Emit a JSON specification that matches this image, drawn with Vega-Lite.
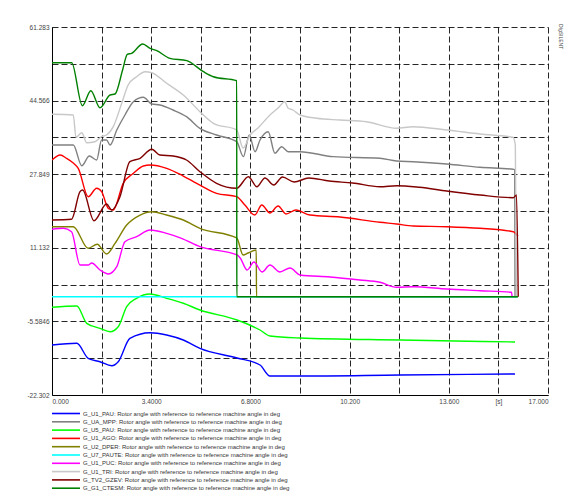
{
  "$schema": "https://vega.github.io/schema/vega-lite/v6.json",
  "autosize": "none",
  "width": 496,
  "height": 368,
  "padding": {"left": 52, "top": 27, "right": 20, "bottom": 101},
  "background": "white",
  "title": {"text": "DIgSILENT", "orient": "right", "anchor": "start", "fontSize": 5, "font": "Liberation Sans", "color": "#444", "offset": 10, "fontWeight": "normal"},
  "data": {"values": [
    {"s":"G_U1_PAU","x":0,"y":-10.94},{"s":"G_U1_PAU","x":0.85,"y":-10.56},{"s":"G_U1_PAU","x":1.24,"y":-13.97},{"s":"G_U1_PAU","x":1.645,"y":-14.74},{"s":"G_U1_PAU","x":2.05,"y":-15.65},{"s":"G_U1_PAU","x":2.27,"y":-14.74},{"s":"G_U1_PAU","x":2.67,"y":-9.42},{"s":"G_U1_PAU","x":3.36,"y":-8.15},{"s":"G_U1_PAU","x":3.93,"y":-8.67},{"s":"G_U1_PAU","x":4.5,"y":-9.81},{"s":"G_U1_PAU","x":5.07,"y":-11.7},{"s":"G_U1_PAU","x":6.34,"y":-13.9},{"s":"G_U1_PAU","x":7.13,"y":-15.49},{"s":"G_U1_PAU","x":7.47,"y":-18.0},{"s":"G_U1_PAU","x":8.5,"y":-18.0},{"s":"G_U1_PAU","x":11.93,"y":-17.76},{"s":"G_U1_PAU","x":15.87,"y":-17.53},

    {"s":"G_UA_MPP","x":0,"y":34.48},{"s":"G_UA_MPP","x":0.73,"y":34.48},{"s":"G_UA_MPP","x":1.02,"y":29.78},{"s":"G_UA_MPP","x":1.28,"y":31.98},{"s":"G_UA_MPP","x":1.53,"y":31.07},{"s":"G_UA_MPP","x":1.7,"y":35.62},{"s":"G_UA_MPP","x":1.87,"y":35.62},{"s":"G_UA_MPP","x":1.99,"y":34.48},{"s":"G_UA_MPP","x":2.22,"y":37.89},{"s":"G_UA_MPP","x":2.5,"y":41.3},{"s":"G_UA_MPP","x":2.79,"y":44.32},{"s":"G_UA_MPP","x":3.13,"y":45.31},{"s":"G_UA_MPP","x":3.42,"y":43.79},{"s":"G_UA_MPP","x":3.7,"y":43.57},{"s":"G_UA_MPP","x":4.15,"y":42.43},{"s":"G_UA_MPP","x":4.61,"y":40.91},{"s":"G_UA_MPP","x":5.07,"y":38.27},{"s":"G_UA_MPP","x":5.64,"y":36.75},{"s":"G_UA_MPP","x":6.33,"y":35.23},{"s":"G_UA_MPP","x":6.56,"y":31.83},{"s":"G_UA_MPP","x":6.76,"y":36.75},{"s":"G_UA_MPP","x":6.96,"y":32.96},{"s":"G_UA_MPP","x":7.13,"y":35.62},{"s":"G_UA_MPP","x":7.41,"y":37.5},{"s":"G_UA_MPP","x":7.64,"y":32.6},{"s":"G_UA_MPP","x":7.87,"y":34.09},{"s":"G_UA_MPP","x":8.1,"y":32.96},{"s":"G_UA_MPP","x":8.5,"y":32.96},{"s":"G_UA_MPP","x":9.64,"y":31.83},{"s":"G_UA_MPP","x":11.24,"y":31.46},{"s":"G_UA_MPP","x":11.81,"y":30.85},{"s":"G_UA_MPP","x":12.38,"y":30.69},{"s":"G_UA_MPP","x":13.53,"y":30.17},{"s":"G_UA_MPP","x":14.67,"y":29.42},{"s":"G_UA_MPP","x":15.81,"y":28.96},{"s":"G_UA_MPP","x":15.86,"y":28.9},{"s":"G_UA_MPP","x":15.87,"y":0},

    {"s":"G_U5_PAU","x":0,"y":-2.38},{"s":"G_U5_PAU","x":0.85,"y":-2.09},{"s":"G_U5_PAU","x":1.19,"y":-6.02},{"s":"G_U5_PAU","x":1.645,"y":-7.15},{"s":"G_U5_PAU","x":1.99,"y":-7.92},{"s":"G_U5_PAU","x":2.27,"y":-6.79},{"s":"G_U5_PAU","x":2.56,"y":-2.25},{"s":"G_U5_PAU","x":2.9,"y":-0.34},{"s":"G_U5_PAU","x":3.36,"y":0.64},{"s":"G_U5_PAU","x":3.93,"y":-0.34},{"s":"G_U5_PAU","x":4.5,"y":-1.47},{"s":"G_U5_PAU","x":5.07,"y":-3.0},{"s":"G_U5_PAU","x":6.34,"y":-5.27},{"s":"G_U5_PAU","x":7.13,"y":-7.54},{"s":"G_U5_PAU","x":7.47,"y":-8.9},{"s":"G_U5_PAU","x":8.5,"y":-9.35},{"s":"G_U5_PAU","x":11.93,"y":-9.81},{"s":"G_U5_PAU","x":15.87,"y":-10.26},

    {"s":"G_U1_AGO","x":0,"y":31.07},{"s":"G_U1_AGO","x":0.28,"y":32.21},{"s":"G_U1_AGO","x":0.5,"y":31.46},{"s":"G_U1_AGO","x":0.74,"y":30.32},{"s":"G_U1_AGO","x":0.9,"y":29.18},{"s":"G_U1_AGO","x":1.24,"y":22.74},{"s":"G_U1_AGO","x":1.53,"y":24.65},{"s":"G_U1_AGO","x":1.7,"y":23.88},{"s":"G_U1_AGO","x":1.93,"y":20.1},{"s":"G_U1_AGO","x":2.1,"y":19.72},{"s":"G_U1_AGO","x":2.44,"y":25.78},{"s":"G_U1_AGO","x":2.79,"y":28.05},{"s":"G_U1_AGO","x":3.13,"y":29.71},{"s":"G_U1_AGO","x":3.36,"y":29.94},{"s":"G_U1_AGO","x":3.93,"y":29.18},{"s":"G_U1_AGO","x":4.5,"y":27.44},{"s":"G_U1_AGO","x":4.96,"y":25.78},{"s":"G_U1_AGO","x":5.64,"y":23.51},{"s":"G_U1_AGO","x":6.33,"y":22.74},{"s":"G_U1_AGO","x":6.61,"y":20.85},{"s":"G_U1_AGO","x":6.95,"y":18.58},{"s":"G_U1_AGO","x":7.19,"y":20.85},{"s":"G_U1_AGO","x":7.47,"y":19.04},{"s":"G_U1_AGO","x":7.75,"y":20.63},{"s":"G_U1_AGO","x":8.02,"y":18.81},{"s":"G_U1_AGO","x":8.36,"y":19.72},{"s":"G_U1_AGO","x":8.84,"y":18.58},{"s":"G_U1_AGO","x":9.87,"y":18.13},{"s":"G_U1_AGO","x":11.24,"y":16.92},{"s":"G_U1_AGO","x":11.81,"y":16.54},{"s":"G_U1_AGO","x":12.38,"y":16.08},{"s":"G_U1_AGO","x":13.53,"y":15.93},{"s":"G_U1_AGO","x":14.67,"y":15.56},{"s":"G_U1_AGO","x":15.81,"y":14.79},{"s":"G_U1_AGO","x":15.97,"y":13.81},

    {"s":"G_U2_DPER","x":0,"y":15.92},{"s":"G_U2_DPER","x":0.73,"y":15.92},{"s":"G_U2_DPER","x":1.24,"y":11.02},{"s":"G_U2_DPER","x":1.55,"y":11.93},{"s":"G_U2_DPER","x":1.87,"y":9.73},{"s":"G_U2_DPER","x":2.16,"y":12.15},{"s":"G_U2_DPER","x":2.56,"y":16.31},{"s":"G_U2_DPER","x":3.02,"y":18.58},{"s":"G_U2_DPER","x":3.42,"y":19.33},{"s":"G_U2_DPER","x":3.93,"y":18.58},{"s":"G_U2_DPER","x":4.5,"y":17.45},{"s":"G_U2_DPER","x":5.07,"y":15.56},{"s":"G_U2_DPER","x":6.33,"y":13.36},{"s":"G_U2_DPER","x":6.55,"y":9.5},{"s":"G_U2_DPER","x":6.72,"y":9.95},{"s":"G_U2_DPER","x":7.0,"y":10.63},{"s":"G_U2_DPER","x":7.01,"y":0},{"s":"G_U2_DPER","x":15.95,"y":0},

    {"s":"G_U7_PAUTE","x":0,"y":0},{"s":"G_U7_PAUTE","x":15.95,"y":0},

    {"s":"G_U1_PUC","x":0,"y":15.33},{"s":"G_U1_PUC","x":0.39,"y":15.56},{"s":"G_U1_PUC","x":0.67,"y":14.79},{"s":"G_U1_PUC","x":0.96,"y":7.22},{"s":"G_U1_PUC","x":1.24,"y":7.22},{"s":"G_U1_PUC","x":1.36,"y":7.68},{"s":"G_U1_PUC","x":1.645,"y":6.09},{"s":"G_U1_PUC","x":1.93,"y":5.19},{"s":"G_U1_PUC","x":2.22,"y":6.85},{"s":"G_U1_PUC","x":2.5,"y":12.52},{"s":"G_U1_PUC","x":2.9,"y":13.65},{"s":"G_U1_PUC","x":3.36,"y":15.17},{"s":"G_U1_PUC","x":3.93,"y":14.42},{"s":"G_U1_PUC","x":4.44,"y":13.29},{"s":"G_U1_PUC","x":5.07,"y":11.38},{"s":"G_U1_PUC","x":6.34,"y":9.5},{"s":"G_U1_PUC","x":6.45,"y":8.82},{"s":"G_U1_PUC","x":6.69,"y":6.09},{"s":"G_U1_PUC","x":6.92,"y":7.91},{"s":"G_U1_PUC","x":7.2,"y":5.64},{"s":"G_U1_PUC","x":7.47,"y":7.22},{"s":"G_U1_PUC","x":7.81,"y":5.64},{"s":"G_U1_PUC","x":8.16,"y":6.55},{"s":"G_U1_PUC","x":8.5,"y":4.96},{"s":"G_U1_PUC","x":9.53,"y":4.51},{"s":"G_U1_PUC","x":10.55,"y":3.83},{"s":"G_U1_PUC","x":11.24,"y":3.3},{"s":"G_U1_PUC","x":11.81,"y":2.16},{"s":"G_U1_PUC","x":12.38,"y":2.3},{"s":"G_U1_PUC","x":13.53,"y":1.77},{"s":"G_U1_PUC","x":14.67,"y":1.39},{"s":"G_U1_PUC","x":15.75,"y":1.03},{"s":"G_U1_PUC","x":15.77,"y":0},

    {"s":"G_U1_TRI","x":0,"y":41.45},{"s":"G_U1_TRI","x":0.73,"y":41.3},{"s":"G_U1_TRI","x":0.82,"y":36.23},{"s":"G_U1_TRI","x":1.02,"y":37.27},{"s":"G_U1_TRI","x":1.19,"y":35.0},{"s":"G_U1_TRI","x":1.47,"y":35.23},{"s":"G_U1_TRI","x":1.7,"y":36.37},{"s":"G_U1_TRI","x":1.87,"y":36.75},{"s":"G_U1_TRI","x":2.1,"y":38.64},{"s":"G_U1_TRI","x":2.39,"y":43.95},{"s":"G_U1_TRI","x":2.61,"y":48.11},{"s":"G_U1_TRI","x":2.9,"y":49.99},{"s":"G_U1_TRI","x":3.19,"y":51.13},{"s":"G_U1_TRI","x":3.42,"y":50.9},{"s":"G_U1_TRI","x":3.93,"y":48.5},{"s":"G_U1_TRI","x":4.5,"y":45.84},{"s":"G_U1_TRI","x":5.07,"y":42.05},{"s":"G_U1_TRI","x":5.53,"y":39.41},{"s":"G_U1_TRI","x":6.33,"y":37.89},{"s":"G_U1_TRI","x":6.55,"y":33.8},{"s":"G_U1_TRI","x":6.79,"y":36.75},{"s":"G_U1_TRI","x":7.06,"y":38.34},{"s":"G_U1_TRI","x":7.47,"y":41.3},{"s":"G_U1_TRI","x":7.75,"y":42.89},{"s":"G_U1_TRI","x":7.98,"y":44.32},{"s":"G_U1_TRI","x":8.09,"y":42.89},{"s":"G_U1_TRI","x":8.26,"y":42.43},{"s":"G_U1_TRI","x":8.5,"y":41.3},{"s":"G_U1_TRI","x":9.07,"y":40.55},{"s":"G_U1_TRI","x":9.87,"y":40.16},{"s":"G_U1_TRI","x":10.78,"y":39.77},{"s":"G_U1_TRI","x":11.81,"y":38.27},{"s":"G_U1_TRI","x":12.37,"y":38.64},{"s":"G_U1_TRI","x":13.53,"y":37.89},{"s":"G_U1_TRI","x":14.67,"y":36.98},{"s":"G_U1_TRI","x":15.8,"y":36.23},{"s":"G_U1_TRI","x":15.88,"y":34.48},{"s":"G_U1_TRI","x":15.92,"y":0},

    {"s":"G_TV2_GZEV","x":0,"y":17.44},{"s":"G_TV2_GZEV","x":0.67,"y":17.61},{"s":"G_TV2_GZEV","x":0.96,"y":23.88},{"s":"G_TV2_GZEV","x":1.05,"y":24.26},{"s":"G_TV2_GZEV","x":1.44,"y":17.29},{"s":"G_TV2_GZEV","x":1.87,"y":21.08},{"s":"G_TV2_GZEV","x":2.05,"y":19.72},{"s":"G_TV2_GZEV","x":2.33,"y":22.74},{"s":"G_TV2_GZEV","x":2.67,"y":30.69},{"s":"G_TV2_GZEV","x":3.02,"y":31.46},{"s":"G_TV2_GZEV","x":3.42,"y":33.51},{"s":"G_TV2_GZEV","x":3.7,"y":32.21},{"s":"G_TV2_GZEV","x":4.15,"y":31.98},{"s":"G_TV2_GZEV","x":4.61,"y":31.07},{"s":"G_TV2_GZEV","x":5.07,"y":28.42},{"s":"G_TV2_GZEV","x":5.64,"y":25.78},{"s":"G_TV2_GZEV","x":6.33,"y":24.65},{"s":"G_TV2_GZEV","x":6.73,"y":27.28},{"s":"G_TV2_GZEV","x":7.02,"y":25.01},{"s":"G_TV2_GZEV","x":7.3,"y":26.99},{"s":"G_TV2_GZEV","x":7.6,"y":25.4},{"s":"G_TV2_GZEV","x":7.9,"y":27.21},{"s":"G_TV2_GZEV","x":8.3,"y":26.08},{"s":"G_TV2_GZEV","x":8.8,"y":26.99},{"s":"G_TV2_GZEV","x":9.5,"y":26.3},{"s":"G_TV2_GZEV","x":10.3,"y":25.85},{"s":"G_TV2_GZEV","x":11.24,"y":25.01},{"s":"G_TV2_GZEV","x":11.81,"y":25.24},{"s":"G_TV2_GZEV","x":12.59,"y":24.87},{"s":"G_TV2_GZEV","x":13.53,"y":24.03},{"s":"G_TV2_GZEV","x":14.67,"y":23.13},{"s":"G_TV2_GZEV","x":15.81,"y":22.51},{"s":"G_TV2_GZEV","x":15.92,"y":23.12},{"s":"G_TV2_GZEV","x":15.98,"y":0},

    {"s":"G_G1_CTESM","x":0,"y":53.17},{"s":"G_G1_CTESM","x":0.675,"y":53.17},{"s":"G_G1_CTESM","x":1.04,"y":43.4},{"s":"G_G1_CTESM","x":1.33,"y":46.81},{"s":"G_G1_CTESM","x":1.645,"y":42.95},{"s":"G_G1_CTESM","x":1.99,"y":45.84},{"s":"G_G1_CTESM","x":2.16,"y":46.06},{"s":"G_G1_CTESM","x":2.42,"y":51.52},{"s":"G_G1_CTESM","x":2.58,"y":55.08},{"s":"G_G1_CTESM","x":2.73,"y":55.31},{"s":"G_G1_CTESM","x":3.11,"y":57.42},{"s":"G_G1_CTESM","x":3.36,"y":56.44},{"s":"G_G1_CTESM","x":3.59,"y":55.9},{"s":"G_G1_CTESM","x":4.04,"y":54.17},{"s":"G_G1_CTESM","x":4.62,"y":53.63},{"s":"G_G1_CTESM","x":5.19,"y":51.13},{"s":"G_G1_CTESM","x":5.53,"y":49.99},{"s":"G_G1_CTESM","x":6.33,"y":49.08},{"s":"G_G1_CTESM","x":6.335,"y":0},{"s":"G_G1_CTESM","x":15.97,"y":0}
  ]},
  "mark": {"type": "line", "strokeWidth": 1.4, "clip": true, "interpolate": "monotone"},
  "encoding": {
    "x": {"field": "x", "type": "quantitative", "scale": {"domain": [0, 17], "nice": false, "zero": false},
      "axis": {"title": null, "values": [0, 1.7, 3.4, 5.1, 6.8, 8.5, 10.2, 11.9, 13.6, 15.3, 17],
        "labelExpr": "datum.value==0?'0.000':datum.value==3.4?'3.4000':datum.value==6.8?'6.8000':datum.value==10.2?'10.200':datum.value==13.6?'13.600':datum.value==15.3?'[s]':datum.value==17?'17.000':''"}},
    "y": {"field": "y", "type": "quantitative", "scale": {"domain": [-22.302, 61.283], "nice": false, "zero": false},
      "axis": {"title": null, "values": [-22.302, -13.9435, -5.5846, 2.7737, 11.132, 19.4905, 27.849, 36.2075, 44.566, 52.9245, 61.283],
        "labelExpr": "datum.value==-22.302?'-22.302':datum.value==-5.5846?'-5.5846':datum.value==11.132?'11.132':datum.value==27.849?'27.849':datum.value==44.566?'44.566':datum.value==61.283?'61.283':''"}},
    "color": {"field": "s", "type": "nominal",
      "scale": {"domain": ["G_U1_PAU","G_UA_MPP","G_U5_PAU","G_U1_AGO","G_U2_DPER","G_U7_PAUTE","G_U1_PUC","G_U1_TRI","G_TV2_GZEV","G_G1_CTESM"],
        "range": ["#0000ff","#808080","#00ff00","#ff0000","#808000","#00ffff","#ff00ff","#c8c8c8","#800000","#008000"]},
      "legend": {"title": null, "orient": "none", "legendX": 11, "legendY": 383.5,
        "labelExpr": "datum.label + ': Rotor angle with reference to reference machine angle in deg'"}}
  },
  "config": {
    "view": {"stroke": null},
    "axis": {"grid": true, "gridColor": "#000", "gridDash": [6, 3], "gridWidth": 1, "gridOpacity": 0.85,
      "ticks": false, "domainColor": "#000", "domainWidth": 1,
      "labelFont": "Liberation Sans", "labelFontSize": 6.5, "labelColor": "#444", "labelPadding": 3, "labelOverlap": false},
    "legend": {"symbolType": "M-14,0H14", "symbolSize": 4, "symbolStrokeWidth": 1.6, "labelFont": "Liberation Sans",
      "labelFontSize": 6, "labelColor": "#333", "labelLimit": 400, "rowPadding": 0.3, "padding": 0, "labelOffset": 14}
  }
}
